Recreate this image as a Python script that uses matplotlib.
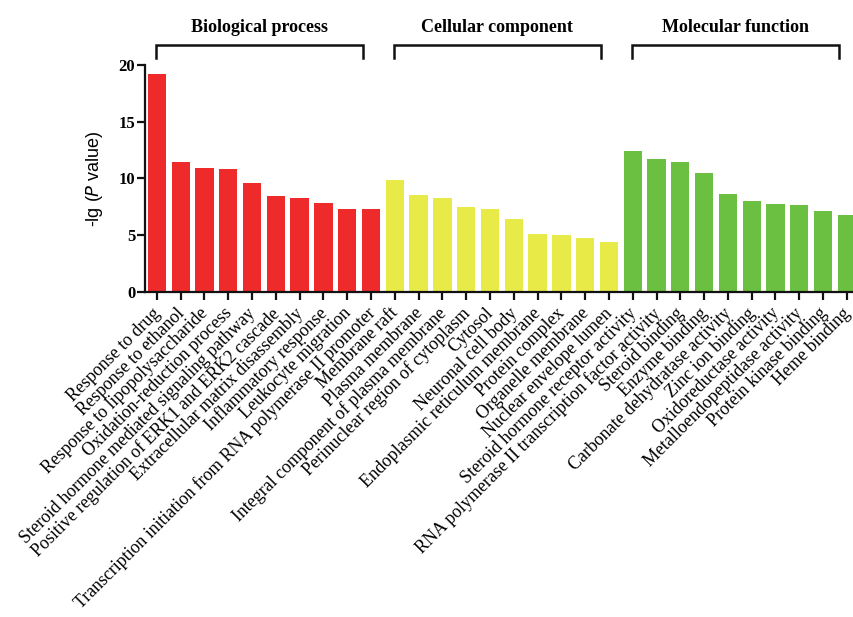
import matplotlib.pyplot as plt
from matplotlib import transforms
import numpy as np

bp_terms = ['Response to drug', 'Response to ethanol', 'Response to lipopolysaccharide',
            'Oxidation-reduction process', 'Steroid hormone mediated signaling pathway',
            'Positive regulation of ERK1 and ERK2 cascade', 'Extracellular matrix disassembly',
            'Inflammatory response', 'Leukocyte migration',
            'Transcription initiation from RNA polymerase II promoter']
bp_values = [19.2, 11.45, 10.9, 10.8, 9.55, 8.45, 8.27, 7.86, 7.3, 7.27]

cc_terms = ['Membrane raft', 'Plasma membrane', 'Integral component of plasma membrane',
            'Perinuclear region of cytoplasm', 'Cytosol', 'Neuronal cell body',
            'Endoplasmic reticulum membrane', 'Protein complex', 'Organelle membrane',
            'Nuclear envelope lumen']
cc_values = [9.86, 8.56, 8.24, 7.5, 7.27, 6.42, 5.07, 4.98, 4.74, 4.41]

mf_terms = ['Steroid hormone receptor activity', 'RNA polymerase II transcription factor activity',
            'Steroid binding', 'Enzyme binding', 'Carbonate dehydratase activity',
            'Zinc ion binding', 'Oxidoreductase activity', 'Metalloendopeptidase activity',
            'Protein kinase binding', 'Heme binding']
mf_values = [12.44, 11.71, 11.45, 10.45, 8.6, 7.98, 7.74, 7.65, 7.15, 6.77]

groups = ['Biological process', 'Cellular component', 'Molecular function']
group_colors = ['#EE2A2A', '#E8EA48', '#6CC041']

plt.rcParams['font.family'] = 'Liberation Serif'

fig = plt.figure(figsize=(8.54, 6.17), dpi=100)
ax = fig.add_axes([0.1698, 0.5272, 0.8302, 0.3675])

terms = bp_terms + cc_terms + mf_terms
values = bp_values + cc_values + mf_values
colors = []
for c, t in zip(group_colors, [bp_terms, cc_terms, mf_terms]):
    colors += [c] * len(t)
x = np.arange(len(terms))

ax.bar(x, values, width=0.77, color=colors, zorder=2)

ax.set_xlim(-0.5, 29.3)
ax.set_ylim(0, 20)
ax.set_yticks([0, 5, 10, 15, 20])
ax.set_xticks(x)
ax.set_xticklabels([])
for lab in ax.get_yticklabels():
    lab.set_fontweight('bold')
    lab.set_fontsize(12)
ax.tick_params(axis='both', direction='out', length=6, width=1.6, color='#111111')
ax.tick_params(axis='y', pad=1)

# slanted category labels, set a bit left of and below each tick
trans = transforms.blended_transform_factory(ax.transData, ax.transAxes)
lab_trans = trans + transforms.ScaledTranslation(-5 / 100, -13 / 100, fig.dpi_scale_trans)
for xi, t in zip(x, terms):
    ax.text(xi, 0, t, transform=lab_trans, rotation=45, ha='right', va='top',
            rotation_mode='anchor', fontsize=12.9, clip_on=False)

for side in ['top', 'right']:
    ax.spines[side].set_visible(False)
for side in ['left', 'bottom']:
    ax.spines[side].set_linewidth(1.6)
    ax.spines[side].set_color('#111111')

ax.set_ylabel('-lg ($\\it{P}$ value)', family='Liberation Sans', fontsize=13, labelpad=10)

# group brackets above the bars
for i, name in enumerate(groups):
    x0 = i * 10 - 0.05
    x1 = i * 10 + 8.65
    ax.plot([x0, x0, x1, x1], [1.03, 1.09, 1.09, 1.03], color='#111111', lw=1.8,
            transform=trans, clip_on=False, solid_joinstyle='miter')
    ax.text((x0 + x1) / 2, 1.165, name, transform=trans, ha='center', va='center',
            fontsize=13, fontweight='bold')

fig.savefig('out.png', dpi=100)
